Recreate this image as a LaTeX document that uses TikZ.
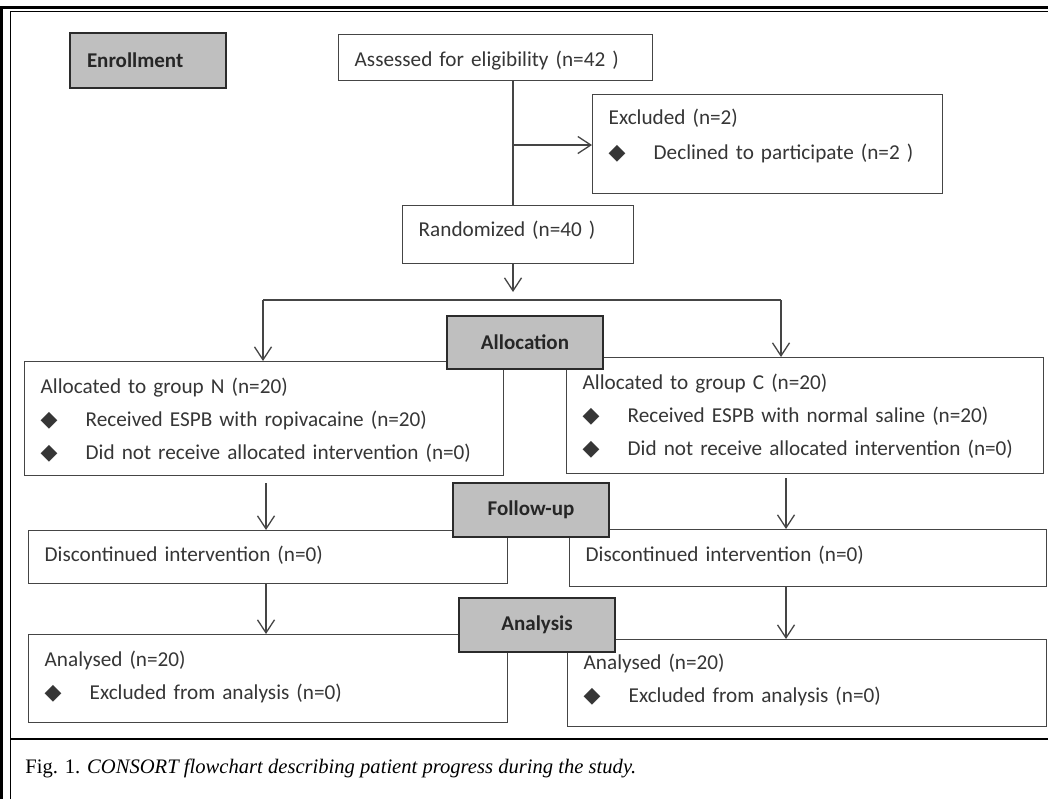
\documentclass[tikz,border=0pt]{standalone}
\usepackage{fontspec}
\setmainfont{Liberation Serif}
\newfontfamily\boxfont{Carlito}
\newfontfamily\symfont{DejaVu Sans}
\usepackage{xcolor}
\usepackage{tikz}
\usetikzlibrary{arrows.meta,positioning,calc}
\definecolor{Ink}{HTML}{2B2B2B}
\definecolor{Edge}{HTML}{454545}
\definecolor{Label}{HTML}{BFBFBF}
\definecolor{Txt}{HTML}{363636}
\newcommand{\itm}[1]{\makebox[22.5pt][l]{\symfont\fontsize{11}{11}\selectfont ◆}#1}
\tikzset{
  panel/.style={draw=Edge,line width=0.7pt,fill=white,anchor=north west,align=left,inner ysep=0pt,inner xsep=8pt,font=\boxfont\fontsize{10.6}{16.5}\selectfont,text=Txt},
  stage/.style={draw=Ink,line width=1pt,fill=Label,anchor=north west,minimum width=78pt,inner sep=0pt,font=\boxfont\bfseries\fontsize{10.5}{12}\selectfont,text=black!85},
  arrow/.style={-{Straight Barb[length=6.5pt,width=8.5pt]},line width=0.65pt,draw=Edge},
  link/.style={line width=0.65pt,draw=Edge}
}

\begin{document}
\begin{tikzpicture}[x=0.5pt,y=-0.5pt]
  \useasboundingbox (0,0) rectangle (1048,799);
  % table frame
  \draw[line width=1.25pt] (1.3,799) -- (1.3,7.7) -- (1048,7.7);
  \draw[line width=0.75pt] (10.3,799) -- (10.3,11.3) -- (1048,11.3);
  \draw[line width=0.75pt] (10.3,739) -- (1048,739);
  % boxes
  \node[panel,text width=141pt,text height=16pt,text depth=7pt] (assessed) at (338,34) {Assessed for eligibility (n=42 )};
  \node[panel,text width=159pt,text height=15pt,text depth=34.5pt] (excluded) at (592,94) {Excluded (n=2)\\[1pt]\itm{Declined to participate (n=2 )}};
  \node[panel,text width=99.5pt,text height=15.5pt,text depth=13.5pt] (randomized) at (402,205) {Randomized (n=40 )};
  \node[panel,text width=223.5pt,text height=16pt,text depth=41pt] (groupN) at (24,361) {Allocated to group N (n=20)\\\itm{Received ESPB with ropivacaine (n=20)}\\\itm{Did not receive allocated intervention (n=0)}};
  \node[panel,text width=222.5pt,text height=16pt,text depth=42pt] (groupC) at (566,357) {Allocated to group C (n=20)\\\itm{Received ESPB with normal saline (n=20)}\\\itm{Did not receive allocated intervention (n=0)}};
  \node[panel,text width=223.5pt,text height=15.5pt,text depth=11pt] (stopN) at (28,530) {Discontinued intervention (n=0)};
  \node[panel,text width=222.5pt,text height=16pt,text depth=12.5pt] (stopC) at (569,529) {Discontinued intervention (n=0)};
  \node[panel,text width=223.5pt,text height=16pt,text depth=28pt] (doneN) at (28,634) {Analysed (n=20)\\\itm{Excluded from analysis (n=0)}};
  \node[panel,text width=223.5pt,text height=15pt,text depth=28.5pt] (doneC) at (567,639) {Analysed (n=20)\\\itm{Excluded from analysis (n=0)}};
  % stage labels
  \node[stage,minimum height=27.5pt,text width=61pt,align=left,inner xsep=8.5pt] (enroll) at (69,32) {Enrollment};
  \node[stage,minimum height=26.5pt] (alloc) at (446,315) {Allocation};
  \node[stage,minimum height=27pt] (follow) at (452,482) {Follow-up};
  \node[stage,minimum height=27pt] (analysis) at (458,597) {Analysis};
  % connectors
  \coordinate (trunk) at (513,145);
  \coordinate (fork) at (513,300);
  \coordinate (forkN) at (263,300);
  \coordinate (forkC) at (781,300);
  \coordinate (laneN) at (266,483);
  \coordinate (laneC) at (786,478);
  \draw[link] (trunk |- assessed.south) -- (trunk |- randomized.north);
  \draw[arrow] (trunk) -- (trunk -| excluded.west);
  \draw[arrow] (fork |- randomized.south) -- ($(fork)+(0,-8)$);
  \draw[link] (forkN) -- (forkC);
  \draw[arrow] (forkN) -- (forkN |- groupN.north);
  \draw[arrow] (forkC) -- (forkC |- groupC.north);
  \draw[arrow] (laneN) -- (laneN |- stopN.north);
  \draw[arrow] (laneN |- stopN.south) -- (laneN |- doneN.north);
  \draw[arrow] (laneC) -- (laneC |- stopC.north);
  \draw[arrow] (laneC |- stopC.south) -- (laneC |- doneC.north);
  % caption
  \node[anchor=base west,inner sep=0pt,font=\fontsize{10.3}{12}\selectfont] (caption) at (25,773) {Fig. 1. \textit{CONSORT flowchart describing patient progress during the study.}};
\end{tikzpicture}
\end{document}
